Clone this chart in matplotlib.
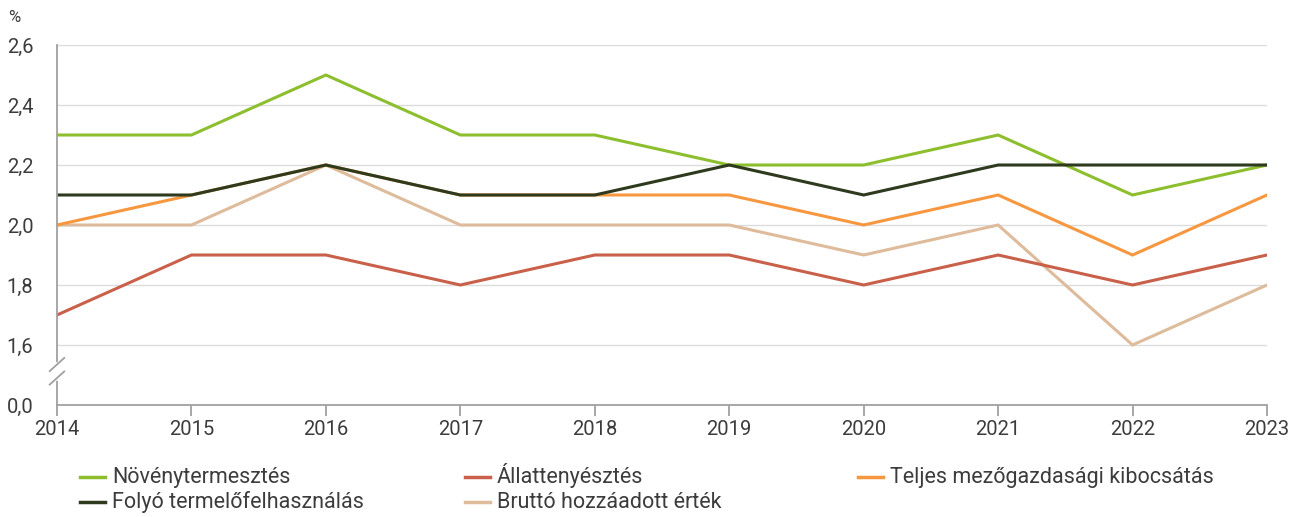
import matplotlib.pyplot as plt
from matplotlib.lines import Line2D

plt.rcParams['font.family'] = ['Roboto', 'DejaVu Sans']

years = [2014, 2015, 2016, 2017, 2018, 2019, 2020, 2021, 2022, 2023]
noveny = [2.3, 2.3, 2.5, 2.3, 2.3, 2.2, 2.2, 2.3, 2.1, 2.2]
allat = [1.7, 1.9, 1.9, 1.8, 1.9, 1.9, 1.8, 1.9, 1.8, 1.9]
teljes = [2.0, 2.1, 2.2, 2.1, 2.1, 2.1, 2.0, 2.1, 1.9, 2.1]
folyo = [2.1, 2.1, 2.2, 2.1, 2.1, 2.2, 2.1, 2.2, 2.2, 2.2]
brutto = [2.0, 2.0, 2.2, 2.0, 2.0, 2.0, 1.9, 2.0, 1.6, 1.8]

labels = ['Növénytermesztés', 'Állattenyésztés', 'Teljes mezőgazdasági kibocsátás',
          'Folyó termelőfelhasználás', 'Bruttó hozzáadott érték']
colors = ['#8DBE2E', '#C9604A', '#F7973F', '#2E3A1E', '#DDBB9B']

# y axis is broken: the bottom tick (1.4 on the scale) stands for 0,0
y_ticks = [1.4, 1.6, 1.8, 2.0, 2.2, 2.4, 2.6]
y_labels = ['0,0', '1,6', '1,8', '2,0', '2,2', '2,4', '2,6']

fig = plt.figure(figsize=(12.99, 5.17), dpi=100)
ax = fig.add_axes([57 / 1299, 1 - 405 / 517, 1210 / 1299, 360 / 517])

series = [brutto, teljes, allat, noveny, folyo]
order = [4, 2, 1, 0, 3]
for s, i in zip(series, order):
    ax.plot(years, s, color=colors[i], lw=2.2, solid_joinstyle='miter')

ax.set_xlim(2014, 2023)
ax.set_ylim(1.4, 2.6)
ax.set_xticks(years)
ax.set_xticklabels([str(y) for y in years])
ax.set_yticks(y_ticks)
ax.set_yticklabels(y_labels)
for y in y_ticks[1:]:
    ax.axhline(y, color='#DCDCDC', lw=1, zorder=0)

for side in ['top', 'right']:
    ax.spines[side].set_visible(False)
for side in ['left', 'bottom']:
    ax.spines[side].set_color('#A0A0A4')
    ax.spines[side].set_linewidth(1.3)
ax.tick_params(axis='x', length=8, color='#A0A0A4', width=1.3, labelsize=14.5,
               labelcolor='#3C3C3C', pad=3)
ax.tick_params(axis='y', length=0, labelsize=14.5, labelcolor='#3C3C3C', pad=17)

# axis break marks
ax.plot([0, 0], [1.49, 1.535], transform=ax.get_yaxis_transform(), color='white',
        lw=4, clip_on=False, zorder=5)
for yb in [1.49, 1.535]:
    ax.plot([-0.006, 0.006], [yb - 0.022, yb + 0.022], transform=ax.get_yaxis_transform(),
            color='#A0A0A4', lw=1.3, clip_on=False, zorder=6)

fig.text(8 / 1299, 1 - 17 / 517, '%', fontsize=12, color='#3C3C3C', va='center')

# legend in three columns, two rows
slots = [(80, 477), (465, 477), (858, 477), (80, 502), (465, 502)]
for (x0, y0), lab, col in zip(slots, labels, colors):
    yf = 1 - y0 / 517
    fig.add_artist(Line2D([x0 / 1299, (x0 + 25) / 1299], [yf, yf], color=col, lw=2.5))
    fig.text((x0 + 32) / 1299, 1 - (y0 + 6) / 517, lab, fontsize=15.5, color='#3C3C3C',
             va='baseline')

fig.savefig('out.png', dpi=100)
